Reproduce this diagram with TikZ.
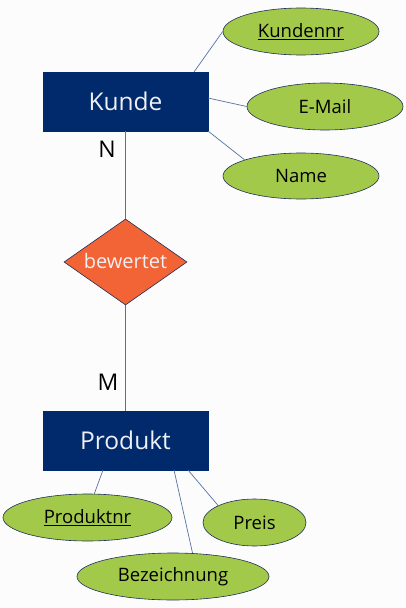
\documentclass[tikz,border=0pt]{standalone}
\usepackage{fontspec}
\setmainfont{Open Sans}
\usetikzlibrary{shapes.geometric}
\definecolor{bg}{HTML}{FCFCFD}
\definecolor{entfill}{HTML}{002A6C}
\definecolor{attrfill}{HTML}{A3C94A}
\definecolor{relfill}{HTML}{F26335}
\definecolor{edge}{HTML}{1F2F5A}
\definecolor{link}{HTML}{5573A0}
\definecolor{lighttext}{HTML}{EEF0F4}
\newcommand{\ulkey}[1]{\underline{#1}}
\tikzset{
  entity/.style={rectangle, fill=entfill, draw=entfill, minimum width=165pt, minimum height=59pt, inner sep=0pt, text=lighttext, font=\fontsize{24.5}{29}\selectfont},
  attr/.style={ellipse, fill=attrfill, draw=edge, line width=0.6pt, inner sep=0pt, font=\fontsize{18.5}{22}\selectfont, text=black},
  rel/.style={diamond, fill=relfill, draw=edge, line width=0.6pt, inner sep=0pt, minimum width=123pt, minimum height=86pt, text=lighttext, font=\fontsize{20}{24}\selectfont, text height=1pt, text depth=0pt},
  conn/.style={draw=link, line width=0.7pt},
  card/.style={font=\fontsize{23}{27}\selectfont, text=black}
}
\begin{document}
\begin{tikzpicture}[x=1pt,y=-1pt]
\fill[bg] (0,0) rectangle (406,608);
\useasboundingbox (0,0) rectangle (406,608);
\node[entity] (kunde) at (125.5,101.5) {Kunde};
\node[entity] (produkt) at (125.5,440.5) {Produkt};
\node[rel] (bew) at (125.5,262) {\makebox[0pt]{\raisebox{-6pt}[0pt][0pt]{bewertet}}};
\node[attr, minimum width=156pt, minimum height=47pt] (knr) at (301,31.5) {\ulkey{Kundennr}};
\node[attr, minimum width=156pt, minimum height=47pt] (mail) at (325,106.5) {E-Mail};
\node[attr, minimum width=156pt, minimum height=46pt] (name) at (301,176) {Name};
\node[attr, minimum width=169pt, minimum height=47pt] (pnr) at (87.5,517.5) {\ulkey{Produktnr}};
\node[attr, minimum width=103pt, minimum height=47pt] (preis) at (254.5,522.5) {Preis};
\node[attr, minimum width=192pt, minimum height=47pt] (bez) at (173,576.5) {Bezeichnung};
\coordinate (k1) at (194,72);
\coordinate (k2) at (208,98);
\coordinate (k3) at (208,131);
\coordinate (p1) at (103,470);
\coordinate (p2) at (174,470);
\coordinate (p3) at (188,470);
\draw[conn] (k1) -- (knr.west);
\draw[conn] (k2) -- (mail.west);
\draw[conn] (k3) -- (name.164);
\draw[conn] (kunde.south) -- (bew.north);
\draw[conn] (bew.south) -- (produkt.north);
\draw[conn] (p1) -- (pnr.74);
\draw[conn] (p2) -- (bez.50);
\draw[conn] (p3) -- (preis.155);
\node[card] (n) at (107,149) {N};
\node[card] (m) at (108,382) {M};
\end{tikzpicture}
\end{document}
